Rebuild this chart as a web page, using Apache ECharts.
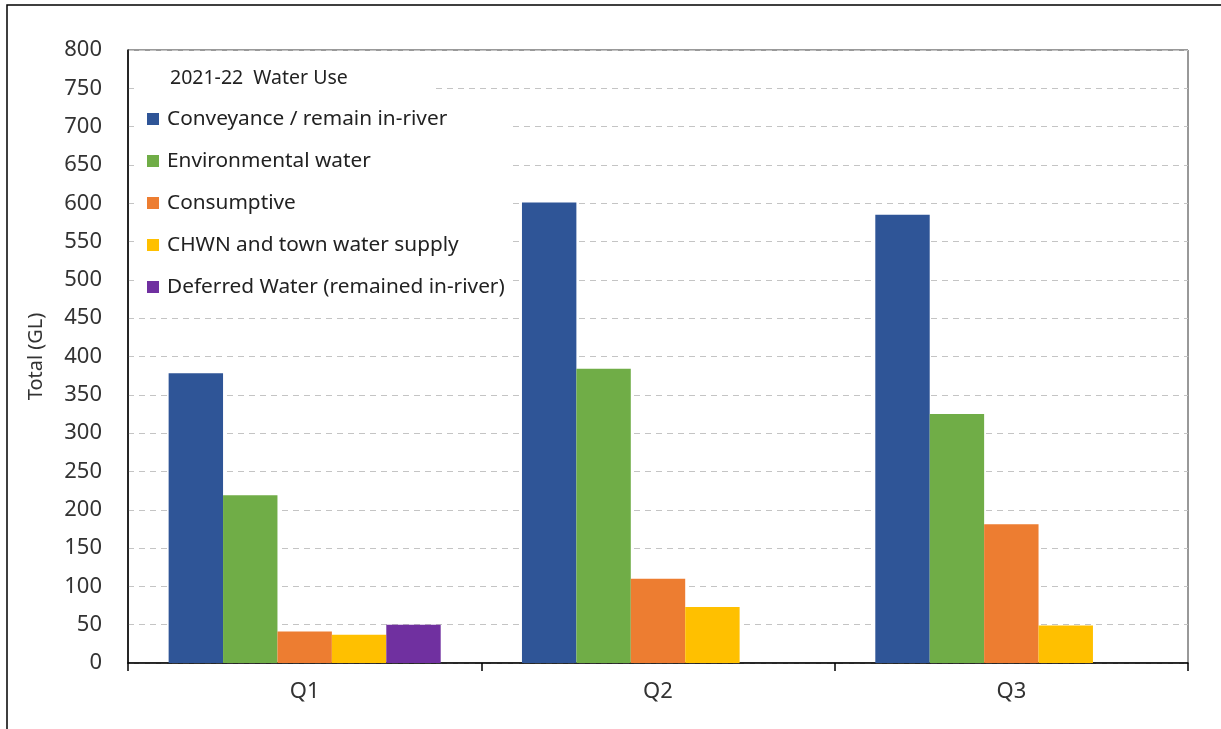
<!DOCTYPE html>
<html>
<head>
<meta charset="utf-8">
<script src="https://cdn.jsdelivr.net/npm/echarts@6/dist/echarts.min.js"></script>
<style>
html,body{margin:0;padding:0;background:#fff;}
#chart{width:1221px;height:729px;}
</style>
</head>
<body>
<div id="chart"></div>
<script>
const categories = ['Q1', 'Q2', 'Q3'];
const seriesNames = [
  'Conveyance / remain in-river',
  'Environmental water',
  'Consumptive',
  'CHWN and town water supply',
  'Deferred Water (remained in-river)'
];
const conveyance = [378, 601, 585];
const environmental = [219, 384, 325];
const consumptive = [41, 110, 181];
const townSupply = [37, 73, 49];
const deferred = [50, null, null];
const colors = ['#2F5597', '#70AD47', '#ED7D31', '#FFC000', '#7030A0'];
const legendTitle = '2021-22  Water Use';
const yAxisName = 'Total (GL)';

const allData = [conveyance, environmental, consumptive, townSupply, deferred];
const FONT = 'Noto Sans';

const chart = echarts.init(document.getElementById('chart'));
chart.setOption({
  animation: false,
  backgroundColor: '#fff',
  textStyle: { fontFamily: FONT },
  graphic: [{
    type: 'rect',
    shape: { x: 7, y: 5, width: 1240, height: 760 },
    style: { fill: 'none', stroke: '#000', lineWidth: 1.5 },
    z: -1
  }],
  title: {
    text: legendTitle,
    left: 134,
    top: 66,
    padding: [2, 84, 2, 36],
    backgroundColor: '#fff',
    textStyle: { fontFamily: FONT, fontSize: 19.5, fontWeight: 'normal', color: '#222' },
    z: 10
  },
  legend: {
    orient: 'vertical',
    left: 134,
    top: 100,
    padding: [8, 8, 8, 13],
    backgroundColor: '#fff',
    itemWidth: 12,
    itemHeight: 12,
    itemGap: 20,
    icon: 'rect',
    data: seriesNames,
    textStyle: { fontFamily: FONT, fontSize: 20.8, color: '#222', lineHeight: 22, padding: [0, 0, 0, 3] },
    z: 10
  },
  grid: {
    left: 128,
    right: 33,
    top: 50,
    bottom: 66,
    show: true,
    borderColor: '#333',
    borderWidth: 1
  },
  xAxis: {
    type: 'category',
    data: categories,
    axisLine: { lineStyle: { color: '#000', width: 1.5 } },
    axisTick: { show: true, length: 8, lineStyle: { color: '#000', width: 1.5 } },
    axisLabel: { fontFamily: FONT, fontSize: 22, color: '#333', margin: 18 },
    splitLine: { show: false }
  },
  yAxis: {
    type: 'value',
    min: 0,
    max: 800,
    interval: 50,
    name: yAxisName,
    nameLocation: 'middle',
    nameGap: 82,
    nameTextStyle: { fontFamily: FONT, fontSize: 20, color: '#333' },
    axisLine: { show: true, lineStyle: { color: '#000', width: 1.5 } },
    axisTick: { show: false },
    axisLabel: { fontFamily: FONT, fontSize: 22, color: '#333', margin: 26 },
    splitLine: { show: true, lineStyle: { color: '#c4c4c4', type: [6, 5], width: 1 } }
  },
  series: seriesNames.map((name, i) => ({
    name: name,
    type: 'bar',
    data: allData[i],
    barGap: '0%',
    barCategoryGap: '23%',
    itemStyle: { color: colors[i] }
  }))
});
</script>
</body>
</html>
